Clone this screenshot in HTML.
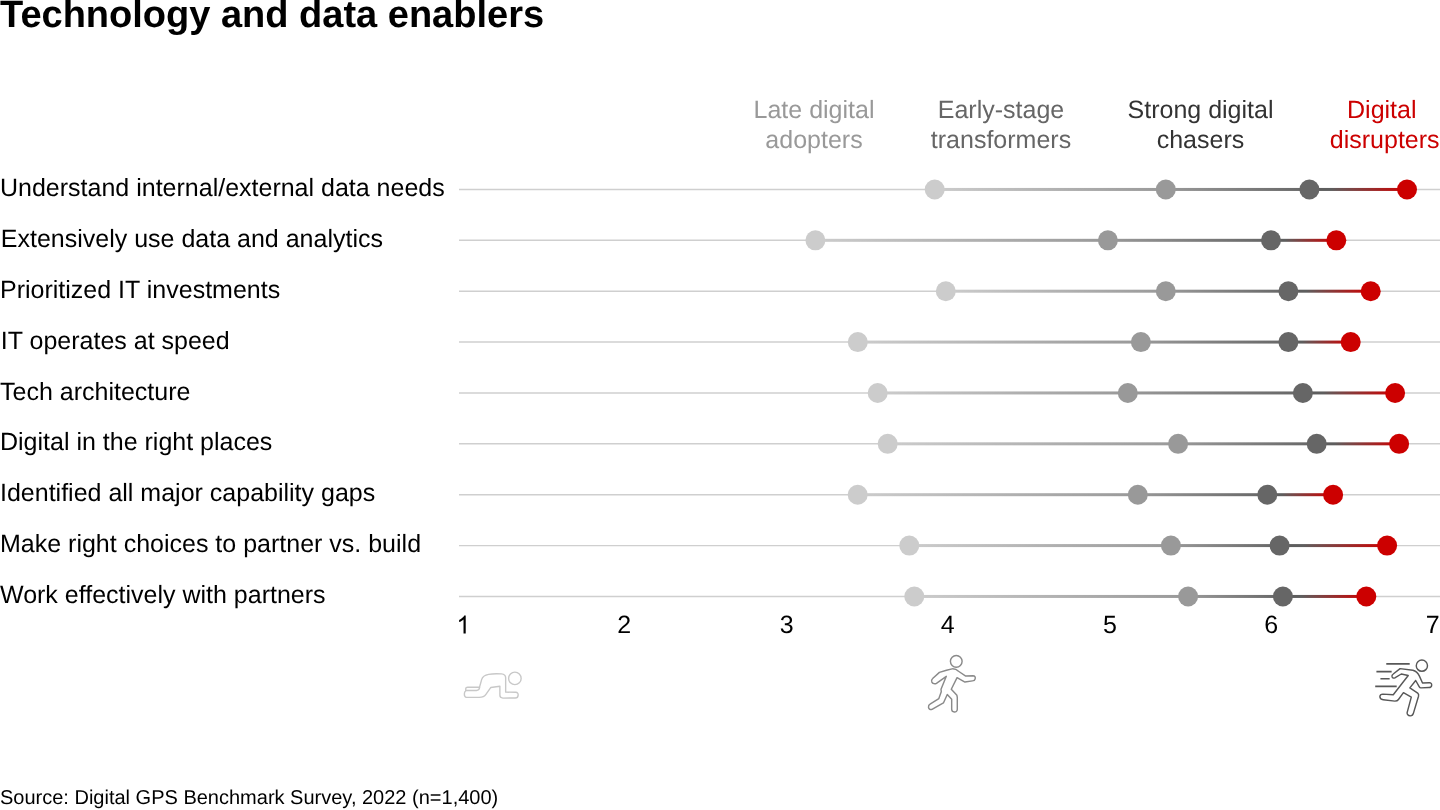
<!DOCTYPE html>
<html><head><meta charset="utf-8"><style>
html,body{margin:0;padding:0;background:#fff;width:1440px;height:810px;overflow:hidden}
svg{display:block;will-change:transform}
text{font-family:"Liberation Sans",sans-serif;text-rendering:geometricPrecision}
.lab{font-size:25px;fill:#000}
.hdr{font-size:25px;text-anchor:middle}
.tick{font-size:25px;fill:#000;text-anchor:middle}
.title{font-size:38px;font-weight:700;fill:#000}
.src{font-size:20px;fill:#000}
</style></head><body>
<svg width="1440" height="810" viewBox="0 0 1440 810">
<defs><linearGradient id="g00" gradientUnits="userSpaceOnUse" x1="934.7" y1="0" x2="1165.8" y2="0"><stop offset="0" stop-color="#cccccc"/><stop offset="1" stop-color="#999999"/></linearGradient><linearGradient id="g01" gradientUnits="userSpaceOnUse" x1="1165.8" y1="0" x2="1309.4" y2="0"><stop offset="0" stop-color="#999999"/><stop offset="1" stop-color="#666666"/></linearGradient><linearGradient id="g02" gradientUnits="userSpaceOnUse" x1="1309.4" y1="0" x2="1407.0" y2="0"><stop offset="0" stop-color="#5e5e5e"/><stop offset="0.22" stop-color="#5e5e5e"/><stop offset="1" stop-color="#cc0000"/></linearGradient><linearGradient id="g10" gradientUnits="userSpaceOnUse" x1="815.4" y1="0" x2="1107.9" y2="0"><stop offset="0" stop-color="#cccccc"/><stop offset="1" stop-color="#999999"/></linearGradient><linearGradient id="g11" gradientUnits="userSpaceOnUse" x1="1107.9" y1="0" x2="1271.0" y2="0"><stop offset="0" stop-color="#999999"/><stop offset="1" stop-color="#666666"/></linearGradient><linearGradient id="g12" gradientUnits="userSpaceOnUse" x1="1271.0" y1="0" x2="1336.3" y2="0"><stop offset="0" stop-color="#5e5e5e"/><stop offset="0.22" stop-color="#5e5e5e"/><stop offset="1" stop-color="#cc0000"/></linearGradient><linearGradient id="g20" gradientUnits="userSpaceOnUse" x1="945.8" y1="0" x2="1165.8" y2="0"><stop offset="0" stop-color="#cccccc"/><stop offset="1" stop-color="#999999"/></linearGradient><linearGradient id="g21" gradientUnits="userSpaceOnUse" x1="1165.8" y1="0" x2="1288.4" y2="0"><stop offset="0" stop-color="#999999"/><stop offset="1" stop-color="#666666"/></linearGradient><linearGradient id="g22" gradientUnits="userSpaceOnUse" x1="1288.4" y1="0" x2="1370.7" y2="0"><stop offset="0" stop-color="#5e5e5e"/><stop offset="0.22" stop-color="#5e5e5e"/><stop offset="1" stop-color="#cc0000"/></linearGradient><linearGradient id="g30" gradientUnits="userSpaceOnUse" x1="857.8" y1="0" x2="1140.9" y2="0"><stop offset="0" stop-color="#cccccc"/><stop offset="1" stop-color="#999999"/></linearGradient><linearGradient id="g31" gradientUnits="userSpaceOnUse" x1="1140.9" y1="0" x2="1288.4" y2="0"><stop offset="0" stop-color="#999999"/><stop offset="1" stop-color="#666666"/></linearGradient><linearGradient id="g32" gradientUnits="userSpaceOnUse" x1="1288.4" y1="0" x2="1350.7" y2="0"><stop offset="0" stop-color="#5e5e5e"/><stop offset="0.22" stop-color="#5e5e5e"/><stop offset="1" stop-color="#cc0000"/></linearGradient><linearGradient id="g40" gradientUnits="userSpaceOnUse" x1="877.7" y1="0" x2="1127.8" y2="0"><stop offset="0" stop-color="#cccccc"/><stop offset="1" stop-color="#999999"/></linearGradient><linearGradient id="g41" gradientUnits="userSpaceOnUse" x1="1127.8" y1="0" x2="1302.9" y2="0"><stop offset="0" stop-color="#999999"/><stop offset="1" stop-color="#666666"/></linearGradient><linearGradient id="g42" gradientUnits="userSpaceOnUse" x1="1302.9" y1="0" x2="1395.1" y2="0"><stop offset="0" stop-color="#5e5e5e"/><stop offset="0.22" stop-color="#5e5e5e"/><stop offset="1" stop-color="#cc0000"/></linearGradient><linearGradient id="g50" gradientUnits="userSpaceOnUse" x1="887.7" y1="0" x2="1178.1" y2="0"><stop offset="0" stop-color="#cccccc"/><stop offset="1" stop-color="#999999"/></linearGradient><linearGradient id="g51" gradientUnits="userSpaceOnUse" x1="1178.1" y1="0" x2="1316.7" y2="0"><stop offset="0" stop-color="#999999"/><stop offset="1" stop-color="#666666"/></linearGradient><linearGradient id="g52" gradientUnits="userSpaceOnUse" x1="1316.7" y1="0" x2="1399.1" y2="0"><stop offset="0" stop-color="#5e5e5e"/><stop offset="0.22" stop-color="#5e5e5e"/><stop offset="1" stop-color="#cc0000"/></linearGradient><linearGradient id="g60" gradientUnits="userSpaceOnUse" x1="857.7" y1="0" x2="1137.8" y2="0"><stop offset="0" stop-color="#cccccc"/><stop offset="1" stop-color="#999999"/></linearGradient><linearGradient id="g61" gradientUnits="userSpaceOnUse" x1="1137.8" y1="0" x2="1267.3" y2="0"><stop offset="0" stop-color="#999999"/><stop offset="1" stop-color="#666666"/></linearGradient><linearGradient id="g62" gradientUnits="userSpaceOnUse" x1="1267.3" y1="0" x2="1333.1" y2="0"><stop offset="0" stop-color="#5e5e5e"/><stop offset="0.22" stop-color="#5e5e5e"/><stop offset="1" stop-color="#cc0000"/></linearGradient><linearGradient id="g70" gradientUnits="userSpaceOnUse" x1="909.3" y1="0" x2="1170.9" y2="0"><stop offset="0" stop-color="#cccccc"/><stop offset="1" stop-color="#999999"/></linearGradient><linearGradient id="g71" gradientUnits="userSpaceOnUse" x1="1170.9" y1="0" x2="1279.6" y2="0"><stop offset="0" stop-color="#999999"/><stop offset="1" stop-color="#666666"/></linearGradient><linearGradient id="g72" gradientUnits="userSpaceOnUse" x1="1279.6" y1="0" x2="1387.1" y2="0"><stop offset="0" stop-color="#5e5e5e"/><stop offset="0.22" stop-color="#5e5e5e"/><stop offset="1" stop-color="#cc0000"/></linearGradient><linearGradient id="g80" gradientUnits="userSpaceOnUse" x1="914.3" y1="0" x2="1188.1" y2="0"><stop offset="0" stop-color="#cccccc"/><stop offset="1" stop-color="#999999"/></linearGradient><linearGradient id="g81" gradientUnits="userSpaceOnUse" x1="1188.1" y1="0" x2="1282.9" y2="0"><stop offset="0" stop-color="#999999"/><stop offset="1" stop-color="#666666"/></linearGradient><linearGradient id="g82" gradientUnits="userSpaceOnUse" x1="1282.9" y1="0" x2="1366.3" y2="0"><stop offset="0" stop-color="#5e5e5e"/><stop offset="0.22" stop-color="#5e5e5e"/><stop offset="1" stop-color="#cc0000"/></linearGradient></defs>
<line x1="459" y1="189.45" x2="1440" y2="189.45" stroke="#cfcfcf" stroke-width="1.4"/>
<text x="0" y="195.80" class="lab">Understand internal/external data needs</text>
<rect x="934.7" y="187.95" width="231.10" height="3.0" fill="url(#g00)"/>
<rect x="1165.8" y="187.95" width="143.60" height="3.0" fill="url(#g01)"/>
<rect x="1309.4" y="187.95" width="97.60" height="3.0" fill="url(#g02)"/>
<circle cx="934.7" cy="189.45" r="10" fill="#cccccc"/>
<circle cx="1165.8" cy="189.45" r="10" fill="#999999"/>
<circle cx="1309.4" cy="189.45" r="10" fill="#666666"/>
<circle cx="1407.0" cy="189.45" r="10" fill="#cc0000"/>
<line x1="459" y1="240.32" x2="1440" y2="240.32" stroke="#cfcfcf" stroke-width="1.4"/>
<text x="0.8" y="246.67" class="lab">Extensively use data and analytics</text>
<rect x="815.4" y="238.82" width="292.50" height="3.0" fill="url(#g10)"/>
<rect x="1107.9" y="238.82" width="163.10" height="3.0" fill="url(#g11)"/>
<rect x="1271.0" y="238.82" width="65.30" height="3.0" fill="url(#g12)"/>
<circle cx="815.4" cy="240.32" r="10" fill="#cccccc"/>
<circle cx="1107.9" cy="240.32" r="10" fill="#999999"/>
<circle cx="1271.0" cy="240.32" r="10" fill="#666666"/>
<circle cx="1336.3" cy="240.32" r="10" fill="#cc0000"/>
<line x1="459" y1="291.20" x2="1440" y2="291.20" stroke="#cfcfcf" stroke-width="1.4"/>
<text x="0" y="297.55" class="lab">Prioritized IT investments</text>
<rect x="945.8" y="289.70" width="220.00" height="3.0" fill="url(#g20)"/>
<rect x="1165.8" y="289.70" width="122.60" height="3.0" fill="url(#g21)"/>
<rect x="1288.4" y="289.70" width="82.30" height="3.0" fill="url(#g22)"/>
<circle cx="945.8" cy="291.20" r="10" fill="#cccccc"/>
<circle cx="1165.8" cy="291.20" r="10" fill="#999999"/>
<circle cx="1288.4" cy="291.20" r="10" fill="#666666"/>
<circle cx="1370.7" cy="291.20" r="10" fill="#cc0000"/>
<line x1="459" y1="342.07" x2="1440" y2="342.07" stroke="#cfcfcf" stroke-width="1.4"/>
<text x="0.8" y="348.73" class="lab">IT operates at speed</text>
<rect x="857.8" y="340.57" width="283.10" height="3.0" fill="url(#g30)"/>
<rect x="1140.9" y="340.57" width="147.50" height="3.0" fill="url(#g31)"/>
<rect x="1288.4" y="340.57" width="62.30" height="3.0" fill="url(#g32)"/>
<circle cx="857.8" cy="342.07" r="10" fill="#cccccc"/>
<circle cx="1140.9" cy="342.07" r="10" fill="#999999"/>
<circle cx="1288.4" cy="342.07" r="10" fill="#666666"/>
<circle cx="1350.7" cy="342.07" r="10" fill="#cc0000"/>
<line x1="459" y1="392.95" x2="1440" y2="392.95" stroke="#cfcfcf" stroke-width="1.4"/>
<text x="0" y="399.90" class="lab">Tech architecture</text>
<rect x="877.7" y="391.45" width="250.10" height="3.0" fill="url(#g40)"/>
<rect x="1127.8" y="391.45" width="175.10" height="3.0" fill="url(#g41)"/>
<rect x="1302.9" y="391.45" width="92.20" height="3.0" fill="url(#g42)"/>
<circle cx="877.7" cy="392.95" r="10" fill="#cccccc"/>
<circle cx="1127.8" cy="392.95" r="10" fill="#999999"/>
<circle cx="1302.9" cy="392.95" r="10" fill="#666666"/>
<circle cx="1395.1" cy="392.95" r="10" fill="#cc0000"/>
<line x1="459" y1="443.82" x2="1440" y2="443.82" stroke="#cfcfcf" stroke-width="1.4"/>
<text x="0" y="450.18" class="lab">Digital in the right places</text>
<rect x="887.7" y="442.32" width="290.40" height="3.0" fill="url(#g50)"/>
<rect x="1178.1" y="442.32" width="138.60" height="3.0" fill="url(#g51)"/>
<rect x="1316.7" y="442.32" width="82.40" height="3.0" fill="url(#g52)"/>
<circle cx="887.7" cy="443.82" r="10" fill="#cccccc"/>
<circle cx="1178.1" cy="443.82" r="10" fill="#999999"/>
<circle cx="1316.7" cy="443.82" r="10" fill="#666666"/>
<circle cx="1399.1" cy="443.82" r="10" fill="#cc0000"/>
<line x1="459" y1="494.70" x2="1440" y2="494.70" stroke="#cfcfcf" stroke-width="1.4"/>
<text x="0" y="501.05" class="lab">Identified all major capability gaps</text>
<rect x="857.7" y="493.20" width="280.10" height="3.0" fill="url(#g60)"/>
<rect x="1137.8" y="493.20" width="129.50" height="3.0" fill="url(#g61)"/>
<rect x="1267.3" y="493.20" width="65.80" height="3.0" fill="url(#g62)"/>
<circle cx="857.7" cy="494.70" r="10" fill="#cccccc"/>
<circle cx="1137.8" cy="494.70" r="10" fill="#999999"/>
<circle cx="1267.3" cy="494.70" r="10" fill="#666666"/>
<circle cx="1333.1" cy="494.70" r="10" fill="#cc0000"/>
<line x1="459" y1="545.58" x2="1440" y2="545.58" stroke="#cfcfcf" stroke-width="1.4"/>
<text x="0" y="551.93" class="lab">Make right choices to partner vs. build</text>
<rect x="909.3" y="544.08" width="261.60" height="3.0" fill="url(#g70)"/>
<rect x="1170.9" y="544.08" width="108.70" height="3.0" fill="url(#g71)"/>
<rect x="1279.6" y="544.08" width="107.50" height="3.0" fill="url(#g72)"/>
<circle cx="909.3" cy="545.58" r="10" fill="#cccccc"/>
<circle cx="1170.9" cy="545.58" r="10" fill="#999999"/>
<circle cx="1279.6" cy="545.58" r="10" fill="#666666"/>
<circle cx="1387.1" cy="545.58" r="10" fill="#cc0000"/>
<line x1="459" y1="596.45" x2="1440" y2="596.45" stroke="#cfcfcf" stroke-width="1.4"/>
<text x="0" y="602.80" class="lab">Work effectively with partners</text>
<rect x="914.3" y="594.95" width="273.80" height="3.0" fill="url(#g80)"/>
<rect x="1188.1" y="594.95" width="94.80" height="3.0" fill="url(#g81)"/>
<rect x="1282.9" y="594.95" width="83.40" height="3.0" fill="url(#g82)"/>
<circle cx="914.3" cy="596.45" r="10" fill="#cccccc"/>
<circle cx="1188.1" cy="596.45" r="10" fill="#999999"/>
<circle cx="1282.9" cy="596.45" r="10" fill="#666666"/>
<circle cx="1366.3" cy="596.45" r="10" fill="#cc0000"/>
<path transform="translate(456.4,633.4) scale(0.012207,-0.012207)" d="M763 0 L583 0 L583 1147 C540 1106 483 1064 413 1023 C343 982 280 951 224 930 L224 1104 C325 1151 413 1208 488 1275 C563 1342 616 1407 647 1466 L763 1466 Z" fill="#000"/>
<text x="624.30" y="633.3" class="tick">2</text>
<text x="786.70" y="633.3" class="tick">3</text>
<text x="947.80" y="633.3" class="tick">4</text>
<text x="1109.90" y="633.3" class="tick">5</text>
<text x="1271.25" y="633.3" class="tick">6</text>
<text x="1432.70" y="633.3" class="tick">7</text>
<text x="814.0" y="117.8" class="hdr" fill="#999999">Late digital</text>
<text x="814.0" y="147.7" class="hdr" fill="#999999">adopters</text>
<text x="1001.0" y="117.8" class="hdr" fill="#666666">Early-stage</text>
<text x="1001.0" y="147.7" class="hdr" fill="#666666">transformers</text>
<text x="1200.5" y="117.8" class="hdr" fill="#333333">Strong digital</text>
<text x="1200.5" y="147.7" class="hdr" fill="#333333">chasers</text>
<text x="1381.8" y="117.8" class="hdr" fill="#cc0000">Digital</text>
<text x="1384.7" y="147.7" class="hdr" fill="#cc0000">disrupters</text>
<g transform="translate(460,665) scale(0.04936)" fill="none" stroke="#c8c8c8" stroke-width="28" stroke-linejoin="round" stroke-linecap="round">
<circle cx="1112" cy="271" r="127"/>
<path d="M840 180 C895 185 925 210 925 260 L925 550 L1130 553 C1165 555 1180 580 1178 610 C1176 645 1150 668 1120 668 L870 670 C830 668 808 645 808 615 L808 430 L625 455 L525 595 C495 640 455 656 390 656 L130 656 C100 654 88 630 88 590 C88 555 95 535 115 525 L118 470 C120 455 135 450 155 450 L395 450 L440 290 C455 240 500 205 580 190 C640 178 720 172 840 180 Z"/>
<path d="M128 517 L335 517 C370 515 390 495 398 460"/>
</g>
<g transform="translate(920,650) scale(0.08021)" fill="none" stroke="#8a8a8a" stroke-width="18" stroke-linejoin="round" stroke-linecap="round">
<circle cx="452" cy="141" r="73"/>
<path d="M400 235 C430 233 460 245 480 265 L570 325 L660 320 C685 320 692 340 688 360 C684 378 670 385 655 385 L560 400 L462 345 L390 490 L460 565 L465 590 L465 740 C465 765 445 775 428 774 C410 772 395 760 395 740 L395 615 L340 555 L292 660 L150 740 C130 748 110 738 106 715 C104 695 112 682 125 675 L235 605 L265 520 L262 490 L328 328 L205 415 C185 428 158 420 148 400 C140 382 146 366 158 356 L242 279 L330 252 Z"/>
</g>
<g transform="translate(1372,655) scale(0.08019)" fill="none" stroke="#585858" stroke-width="18" stroke-linejoin="round" stroke-linecap="round">
<circle cx="622" cy="133" r="70"/>
<path d="M178 111 L470 111 M55 207 L245 207 M105 297 L220 297 M40 391 L308 391" stroke-linecap="butt" stroke-width="20"/>
<path d="M350 170 L510 190 C545 198 570 220 590 260 L630 350 L715 345 C735 344 746 360 744 378 C742 395 728 405 710 405 L610 410 C600 410 592 402 588 394 L545 318 L472 410 L570 475 C582 485 584 500 580 515 L518 722 C512 748 497 760 475 759 C450 757 436 740 438 718 L490 525 L392 470 L330 555 C320 570 305 575 285 575 L140 558 C112 555 98 540 98 518 C100 498 115 488 135 488 L265 495 L452 255 L365 237 L285 285 C270 292 255 288 250 272 C246 258 252 245 265 237 Z"/>
</g>
<text x="0" y="27.1" class="title">Technology and data enablers</text>
<text x="0" y="803.7" class="src">Source: Digital GPS Benchmark Survey, 2022 (n=1,400)</text>
</svg>
</body></html>
